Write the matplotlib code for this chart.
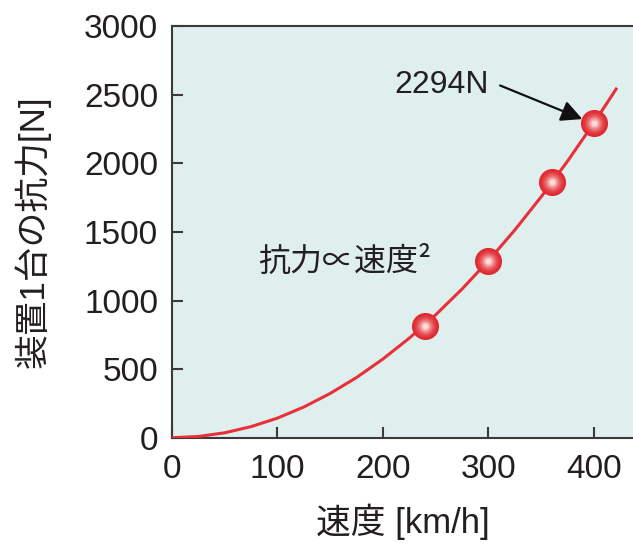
import matplotlib
matplotlib.use("Agg")
import matplotlib.pyplot as plt
from matplotlib.colors import to_rgb

plt.rcParams['font.family'] = ['Liberation Sans', 'Noto Sans CJK JP', 'DejaVu Sans']

# drag curve (km/h -> N)
curve_speed = [0, 25, 50, 75, 100, 125, 150, 175, 200, 225, 250, 275, 300,
               325, 350, 375, 400, 421]
curve_force = [0, 9, 36, 81, 143, 224, 323, 439, 574, 726, 896, 1084, 1290,
               1514, 1756, 2016, 2294, 2541]

# measured points
point_speed = [240, 300, 360, 400]
point_force = [815, 1290, 1865, 2294]

x_ticks = [0, 100, 200, 300, 400]
y_ticks = [0, 500, 1000, 1500, 2000, 2500, 3000]

fig = plt.figure(figsize=(6.33, 5.46), dpi=100)
ax = fig.add_axes([0.2717, 0.1983, 0.7283, 0.754])
ax.set_facecolor('#dfefed')

ax.plot(curve_speed, curve_force, color='#e8303a', lw=2.2, zorder=3)

# shaded sphere markers: stack circles from red rim to pale pink centre
dark = to_rgb('#e02a33')
light = to_rgb('#fcdcd6')
n_layers = 10
for i in range(n_layers):
    t = i / (n_layers - 1)
    s = 19.5 * (1 - 0.8 * t)
    c = tuple(d + (l - d) * t ** 1.8 for d, l in zip(dark, light))
    ax.plot(point_speed, point_force, 'o', ms=s, color=c, mec='none', zorder=4 + i)

ax.text(211, 2567, '2294N', fontsize=23, color='#231f20', ha='left', va='center')
ax.annotate('', xy=(389, 2322), xytext=(311, 2567),
            arrowprops=dict(arrowstyle='-|>', color='#111111', lw=1.6,
                            mutation_scale=32, shrinkA=0, shrinkB=0))

ax.text(82, 1280, '抗力∝速度²', fontsize=23, color='#231f20', va='center',
        family=['Noto Sans CJK JP', 'DejaVu Sans'])

ax.set_xlim(0, 437)
ax.set_ylim(0, 3000)
ax.set_xticks(x_ticks)
ax.set_yticks(y_ticks)

for side in ['left', 'bottom', 'top']:
    ax.spines[side].set_color('#3a3a3a')
    ax.spines[side].set_linewidth(1.5)
ax.spines['right'].set_visible(False)

ax.tick_params(direction='in', length=8, width=1.5, color='#3a3a3a',
               labelsize=24, labelcolor='#231f20')
ax.tick_params(axis='x', pad=12)
ax.tick_params(axis='y', pad=10)

ax.set_xlabel('速度 [km/h]', fontsize=25, color='#231f20', labelpad=13)
ax.set_ylabel('装置1台の抗力[N]', fontsize=25, color='#231f20', labelpad=24)

fig.savefig('out.png', dpi=100)
